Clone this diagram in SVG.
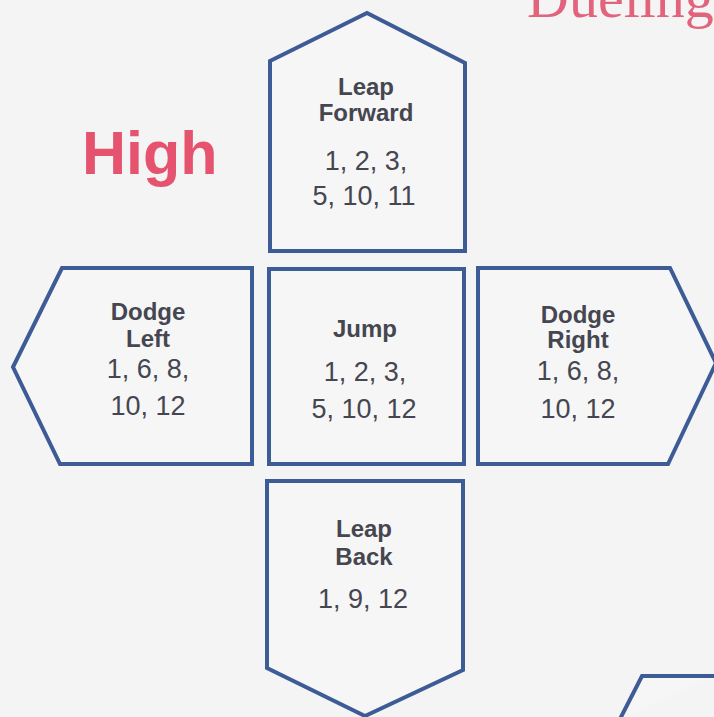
<svg xmlns="http://www.w3.org/2000/svg" width="714" height="717" viewBox="0 0 714 717">
<style>
.shape{fill:#f6f6f7;stroke:#3d5b94;stroke-width:4;stroke-linejoin:miter}
.t{font-family:"Liberation Sans",Arial,sans-serif;font-weight:bold;font-size:24px;fill:#45464f;text-anchor:middle}
.n{font-family:"Liberation Sans",Arial,sans-serif;font-size:27px;fill:#45464f;text-anchor:middle}
</style>
<rect width="714" height="717" fill="#f4f4f5"/>
<text x="527" y="17" font-family="Liberation Serif, Times New Roman, serif" font-size="58" fill="#e2637c">Dueling</text>
<text x="82" y="174" font-family="Liberation Sans, Arial, sans-serif" font-weight="bold" font-size="61" fill="#e6536f">High</text>
<g id="leap-forward">
<path class="shape" d="M270,61 L367,13 L465,63 L465,251 L270,251 Z"/>
<text class="t" x="366" y="95">Leap</text>
<text class="t" x="366" y="121">Forward</text>
<text class="n" x="366" y="170">1, 2, 3,</text>
<text class="n" x="364" y="205">5, 10, 11</text>
</g>
<g id="jump">
<rect class="shape" x="269" y="269" width="195" height="195"/>
<text class="t" x="365" y="337">Jump</text>
<text class="n" x="365" y="381">1, 2, 3,</text>
<text class="n" x="364" y="418">5, 10, 12</text>
</g>
<g id="dodge-left">
<path class="shape" d="M62,268 L252,268 L252,464 L60,464 L13,367 Z"/>
<text class="t" x="148" y="320">Dodge</text>
<text class="t" x="148" y="347">Left</text>
<text class="n" x="148" y="378">1, 6, 8,</text>
<text class="n" x="148" y="415">10, 12</text>
</g>
<g id="dodge-right">
<path class="shape" d="M478,268 L670,268 L716,363 L668,464 L478,464 Z"/>
<text class="t" x="578" y="323">Dodge</text>
<text class="t" x="578" y="348">Right</text>
<text class="n" x="578" y="380">1, 6, 8,</text>
<text class="n" x="578" y="418">10, 12</text>
</g>
<g id="leap-back">
<path class="shape" d="M267,481 L463,481 L463,670 L365,716 L267,668 Z"/>
<text class="t" x="364" y="537">Leap</text>
<text class="t" x="364" y="565">Back</text>
<text class="n" x="363" y="608">1, 9, 12</text>
</g>
<g id="partial-node">
<path class="shape" d="M620,719 L642,676 L716,676"/>
</g>
</svg>
